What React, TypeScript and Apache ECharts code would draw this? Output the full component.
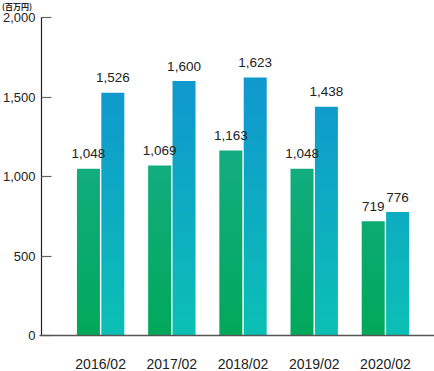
import React, { useEffect, useRef } from "react";
import * as echarts from "echarts";

const categories = ["2016/02", "2017/02", "2018/02", "2019/02", "2020/02"];
const seriesA = [1048, 1069, 1163, 1048, 719];
const seriesB = [1526, 1600, 1623, 1438, 776];
const yTicks = [0, 500, 1000, 1500, 2000];
const unitLabel = "(百万円)";

const FONT = "'Liberation Sans', Arial, sans-serif";

export default function App() {
  const ref = useRef<HTMLDivElement>(null);
  useEffect(() => {
    if (!ref.current) return;
    const chart = echarts.init(ref.current, undefined, { renderer: "svg" });
    const top = 17.5;
    const bottom = 335.5;
    const greenGrad = new echarts.graphic.LinearGradient(0, top, 0, bottom, [
      { offset: 0, color: "#2aa3a0" },
      { offset: 0.45, color: "#13ac80" },
      { offset: 1, color: "#00a85a" },
    ], true);
    const blueGrad = new echarts.graphic.LinearGradient(0, top, 0, bottom, [
      { offset: 0, color: "#1492d0" },
      { offset: 0.3, color: "#0f9ccc" },
      { offset: 1, color: "#0bc0b4" },
    ], true);
    const fmt = (p: any) => Number(p.value).toLocaleString("en-US");
    chart.setOption({
      animation: false,
      textStyle: { fontFamily: FONT },
      grid: { left: 63, right: 13, top: top, bottom: 371 - bottom },
      xAxis: {
        type: "category",
        data: categories,
        axisLine: { show: false },
        axisTick: { show: false },
        axisLabel: { color: "#222", fontSize: 14, margin: 21, fontFamily: FONT },
      },
      yAxis: {
        type: "value",
        min: yTicks[0],
        max: yTicks[yTicks.length - 1],
        interval: 500,
        offset: 23.5,
        axisLine: { show: true, lineStyle: { color: "#222", width: 1.2 } },
        axisTick: { show: true, inside: true, length: 10, lineStyle: { color: "#666", width: 1.2 } },
        splitLine: { show: false },
        axisLabel: {
          color: "#222",
          fontSize: 13,
          margin: 6,
          fontFamily: FONT,
          formatter: (v: number) => v.toLocaleString("en-US"),
        },
      },
      series: [
        {
          type: "bar",
          data: seriesA,
          barWidth: 23,
          barGap: "6%",
          itemStyle: { color: greenGrad },
          label: { show: true, position: "top", distance: 8, color: "#222", fontSize: 13.5, fontFamily: FONT, formatter: fmt },
        },
        {
          type: "bar",
          data: seriesB,
          barWidth: 23,
          itemStyle: { color: blueGrad },
          label: { show: true, position: "top", distance: 8, color: "#222", fontSize: 13.5, fontFamily: FONT, formatter: fmt },
        },
      ],
      graphic: [
        {
          type: "line",
          shape: { x1: 39.5, y1: bottom, x2: 434, y2: bottom },
          style: { stroke: "#555", lineWidth: 1.5 },
          z: 10,
        },
        {
          type: "text",
          left: 2,
          top: 2,
          style: { text: unitLabel, fontSize: 8, fontWeight: "bold", fill: "#222", fontFamily: "'Noto Sans CJK JP', sans-serif" },
        },
      ],
    });
    return () => chart.dispose();
  }, []);
  return <div ref={ref} style={{ width: 434, height: 371, position: "absolute", left: 0, top: 0 }} />;
}
